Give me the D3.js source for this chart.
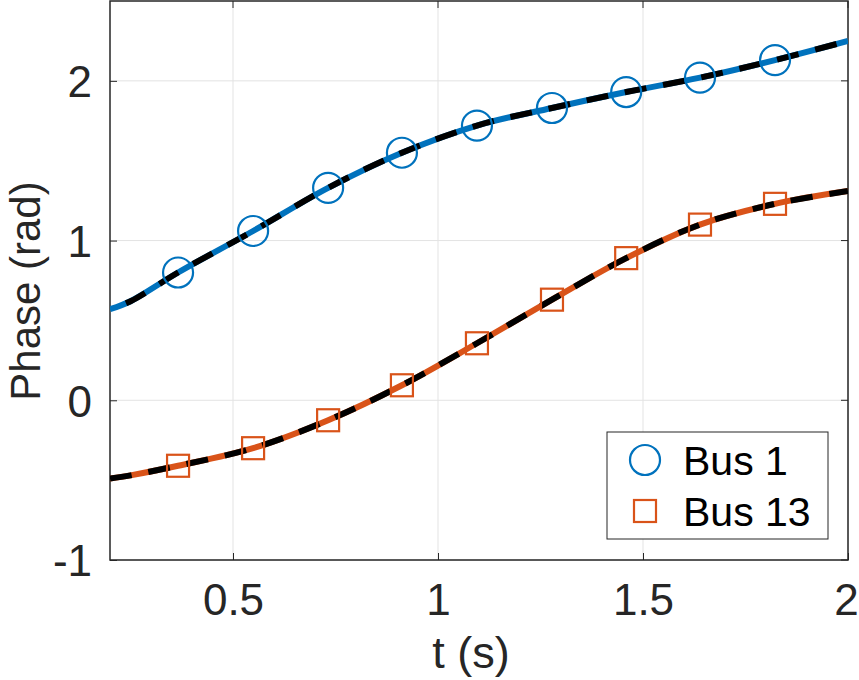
<!DOCTYPE html>
<html>
<head>
<meta charset="utf-8">
<script src="https://cdn.jsdelivr.net/npm/d3@7"></script>
<style>
  body { margin: 0; background: #fff; }
  text { font-family: "Liberation Sans", Arial, sans-serif; fill: #262626; }
</style>
</head>
<body>
<div id="chart-area"></div>
<script>
// data
var tValues   = [0.2, 0.25, 0.366, 0.549, 0.732, 0.912, 1.095, 1.278, 1.459, 1.639, 1.822, 2.0];
var bus1      = [0.57, 0.62, 0.80, 1.06, 1.33, 1.55, 1.72, 1.83, 1.93, 2.02, 2.13, 2.25];
var bus13     = [-0.49, -0.47, -0.41, -0.30, -0.125, 0.094, 0.357, 0.63, 0.89, 1.10, 1.23, 1.31];
var markerT   = [0.366, 0.549, 0.732, 0.912, 1.095, 1.278, 1.459, 1.639, 1.822];
var xTicks    = [0.5, 1, 1.5, 2];
var yTicks    = [-1, 0, 1, 2];
var seriesNames = ["Bus 1", "Bus 13"];

var margin = {top: 1, right: 11, bottom: 120, left: 110};
var width = 859 - margin.left - margin.right,
    height = 680 - margin.top - margin.bottom;

var svg = d3.select("#chart-area").append("svg")
  .attr("width", 859).attr("height", 680);
var g = svg.append("g")
  .attr("transform", "translate(" + margin.left + ", " + margin.top + ")");

var x = d3.scaleLinear().domain([0.2, 2]).range([0, width]);
var y = d3.scaleLinear().domain([-1, 2.5]).range([height, 0]);

// grid
g.append("g").selectAll("line").data(xTicks).enter().append("line")
  .attr("x1", d => x(d)).attr("x2", d => x(d))
  .attr("y1", 0).attr("y2", height)
  .attr("stroke", "#e3e3e3").attr("stroke-width", 1);
g.append("g").selectAll("line").data(yTicks).enter().append("line")
  .attr("x1", 0).attr("x2", width)
  .attr("y1", d => y(d)).attr("y2", d => y(d))
  .attr("stroke", "#e3e3e3").attr("stroke-width", 1);

// axes (plain hyphen for negatives, like the original)
var fmt = d => String(d);
var xAxisCall = d3.axisBottom(x).tickValues(xTicks).tickSizeInner(-7).tickSizeOuter(0)
  .tickPadding(24).tickFormat(fmt);
var yAxisCall = d3.axisLeft(y).tickValues(yTicks).tickSizeInner(-7).tickSizeOuter(0)
  .tickPadding(18).tickFormat(fmt);

var xAxisGroup = g.append("g").attr("transform", "translate(0, " + height + ")").call(xAxisCall);
var yAxisGroup = g.append("g").call(yAxisCall);
[xAxisGroup, yAxisGroup].forEach(function(ag) {
  ag.select(".domain").remove();
  ag.selectAll(".tick line").attr("stroke", "#262626");
  ag.selectAll(".tick text").attr("font-size", "44px").style("fill", "#262626")
    .attr("font-family", "Liberation Sans, Arial, sans-serif");
});
yAxisGroup.selectAll(".tick text").attr("dy", "0.36em");
// keep the last x label inside the window
xAxisGroup.selectAll(".tick text").filter(d => d === 2).attr("dx", "-2");

// top/right ticks
g.append("g").selectAll("line").data(xTicks).enter().append("line")
  .attr("x1", d => x(d)).attr("x2", d => x(d)).attr("y1", 0).attr("y2", 7)
  .attr("stroke", "#262626");
g.append("g").selectAll("line").data(yTicks).enter().append("line")
  .attr("x1", width - 7).attr("x2", width).attr("y1", d => y(d)).attr("y2", d => y(d))
  .attr("stroke", "#262626");

// box
g.append("rect").attr("x", 0).attr("y", 0).attr("width", width).attr("height", height)
  .attr("fill", "none").attr("stroke", "#262626").attr("stroke-width", 1.5);

// lines
var line = d3.line().x(d => x(d[0])).y(d => y(d[1])).curve(d3.curveCatmullRom);
var colors = ["#0072BD", "#D95319"];
var series = [bus1, bus13];
var dashOffsets = [22, 0];

g.append("defs").append("clipPath").attr("id", "clip")
  .append("rect").attr("width", width).attr("height", height);
var plot = g.append("g").attr("clip-path", "url(#clip)");

series.forEach(function(s, i) {
  var pts = tValues.map((t, j) => [t, s[j]]);
  plot.append("path").datum(pts).attr("d", line)
    .attr("fill", "none").attr("stroke", colors[i]).attr("stroke-width", 6);
  plot.append("path").datum(pts).attr("d", line)
    .attr("fill", "none").attr("stroke", "#000").attr("stroke-width", 6)
    .attr("stroke-dasharray", "22,17").attr("stroke-dashoffset", dashOffsets[i]);
});

// markers
var mk1 = markerT.map(t => [t, bus1[tValues.indexOf(t)]]);
var mk13 = markerT.map(t => [t, bus13[tValues.indexOf(t)]]);
plot.selectAll(".m1").data(mk1).enter().append("circle")
  .attr("cx", d => x(d[0])).attr("cy", d => y(d[1])).attr("r", 15)
  .attr("fill", "none").attr("stroke", colors[0]).attr("stroke-width", 2.2);
plot.selectAll(".m13").data(mk13).enter().append("rect")
  .attr("x", d => x(d[0]) - 11).attr("y", d => y(d[1]) - 11)
  .attr("width", 22).attr("height", 22)
  .attr("fill", "none").attr("stroke", colors[1]).attr("stroke-width", 2.2);

// labels
g.append("text").attr("x", 471 - margin.left).attr("y", 668 - margin.top)
  .attr("font-size", "45px").attr("text-anchor", "middle").text("t (s)");
g.append("text").attr("transform", "rotate(-90)")
  .attr("x", -(291 - margin.top)).attr("y", 40 - margin.left)
  .attr("font-size", "42px").attr("text-anchor", "middle").text("Phase (rad)");

// legend
var lg = g.append("g").attr("transform", "translate(" + (607 - margin.left) + "," + (432 - margin.top) + ")");
lg.append("rect").attr("width", 221).attr("height", 107)
  .attr("fill", "#fff").attr("stroke", "#262626").attr("stroke-width", 1);
lg.append("circle").attr("cx", 38).attr("cy", 28).attr("r", 15)
  .attr("fill", "none").attr("stroke", colors[0]).attr("stroke-width", 2.2);
lg.append("rect").attr("x", 27).attr("y", 68).attr("width", 22).attr("height", 22)
  .attr("fill", "none").attr("stroke", colors[1]).attr("stroke-width", 2.2);
lg.selectAll(".lt").data(seriesNames).enter().append("text")
  .attr("x", 76).attr("y", (d, i) => 28 + i * 51).attr("dy", "0.36em")
  .attr("font-size", "41px").style("fill", "#000").text(d => d);
</script>
</body>
</html>
